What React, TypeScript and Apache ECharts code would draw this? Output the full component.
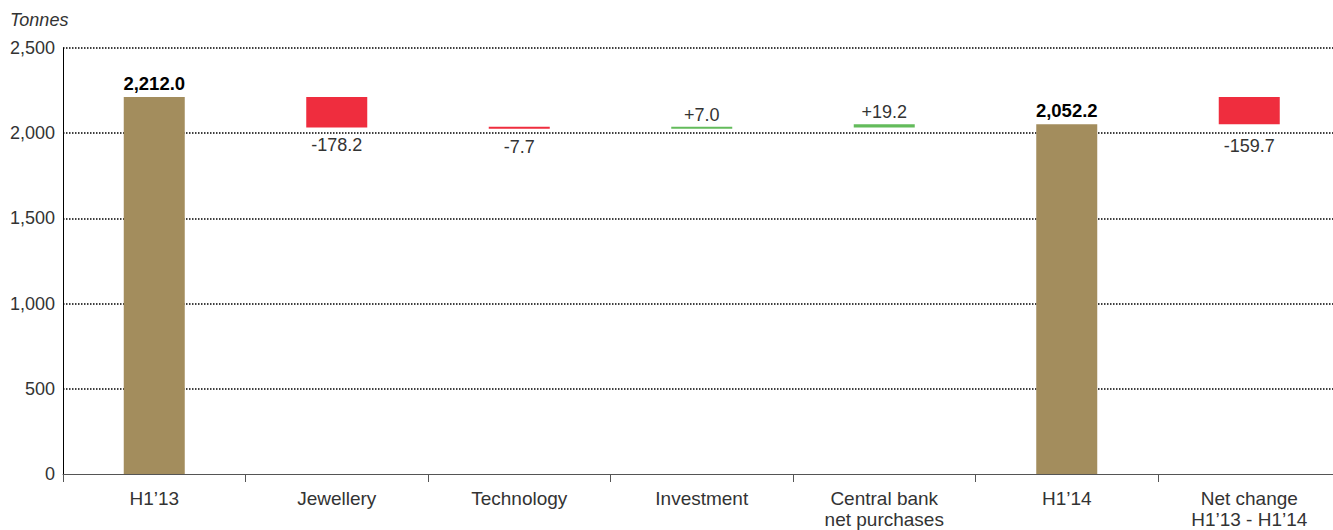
import React, { useEffect, useRef } from "react";
import * as echarts from "echarts";

const categories = [
  "H1\u201913",
  "Jewellery",
  "Technology",
  "Investment",
  "Central bank\nnet purchases",
  "H1\u201914",
  "Net change\nH1\u201913 - H1\u201914",
];
// value of each bar: totals are levels, the others are changes in tonnes
const values = [2212.0, -178.2, -7.7, 7.0, 19.2, 2052.2, -159.7];
const kinds = ["total", "delta", "delta", "delta", "delta", "total", "net"];
const yTicks = [0, 500, 1000, 1500, 2000, 2500];

const GOLD = "#a38d5d";
const RED = "#ef2d3e";
const GREEN = "#63bb5b";
const FONT = "'Liberation Sans', Arial, Helvetica, sans-serif";

function fmt(v: number) {
  return Math.abs(v).toLocaleString("en-US", { minimumFractionDigits: 1, maximumFractionDigits: 1 });
}

export default function App() {
  const ref = useRef<HTMLDivElement>(null);
  useEffect(() => {
    if (!ref.current) return;
    const chart = echarts.init(ref.current, null, { renderer: "svg" });

    const base: number[] = [];
    const heights: any[] = [];
    let running = 0;
    const firstTotal = values[0];
    values.forEach((v, i) => {
      const k = kinds[i];
      if (k === "total") {
        running = v;
        base.push(0);
        heights.push({
          value: v,
          itemStyle: { color: GOLD },
          label: {
            show: true,
            position: "top",
            distance: 4,
            fontWeight: "bold",
            color: "#000",
            fontSize: 18.5,
            fontFamily: FONT,
            formatter: fmt(v),
          },
        });
      } else {
        const start = k === "net" ? firstTotal : running;
        const end = start + v;
        base.push(Math.min(start, end));
        if (k !== "net") running = end;
        heights.push({
          value: Math.abs(v),
          itemStyle: { color: v < 0 ? RED : GREEN },
          label: {
            show: true,
            position: v < 0 ? "bottom" : "top",
            distance: v < 0 ? (k === "net" ? 13 : 9) : 3,
            color: "#333",
            fontSize: 18,
            fontFamily: FONT,
            formatter: (v < 0 ? "-" : "+") + fmt(v),
          },
        });
      }
    });

    chart.setOption({
      animation: false,
      textStyle: { fontFamily: FONT },
      graphic: [
        {
          type: "text",
          left: 10,
          top: 11,
          style: {
            text: "Tonnes",
            fontSize: 18,
            fontStyle: "italic",
            fill: "#333",
            fontFamily: FONT,
          },
        },
      ],
      grid: { left: 63, right: 4.5, top: 48, bottom: 56 },
      xAxis: {
        type: "category",
        data: categories,
        axisLine: { lineStyle: { color: "#555", width: 1 } },
        axisTick: { show: true, length: 8, lineStyle: { color: "#555" } },
        axisLabel: {
          interval: 0,
          color: "#333",
          fontSize: 19,
          fontFamily: FONT,
          margin: 14,
          lineHeight: 21,
        },
      },
      yAxis: {
        type: "value",
        min: yTicks[0],
        max: yTicks[yTicks.length - 1],
        interval: yTicks[1] - yTicks[0],
        axisLine: { show: true, lineStyle: { color: "#000", width: 1 } },
        axisTick: { show: false },
        axisLabel: {
          color: "#333",
          fontSize: 18,
          fontFamily: FONT,
          margin: 8,
          formatter: (v: number) => v.toLocaleString("en-US"),
        },
        splitLine: {
          show: true,
          showMinLine: false,
          lineStyle: { color: "#000", type: [1.5, 1.5], width: 1.5 },
        },
      },
      series: [
        {
          type: "bar",
          stack: "w",
          data: base,
          itemStyle: { color: "transparent" },
          silent: true,
          barWidth: 61,
        },
        {
          type: "bar",
          stack: "w",
          data: heights,
          barWidth: 61,
          barMinHeight: 2,
        },
      ],
    });
    return () => chart.dispose();
  }, []);

  return (
    <div
      style={{
        position: "absolute",
        left: 0,
        top: 0,
        width: 1333,
        height: 530,
        overflow: "hidden",
        background: "#fff",
      }}
    >
      <div ref={ref} style={{ width: 1345, height: 530 }} />
    </div>
  );
}
